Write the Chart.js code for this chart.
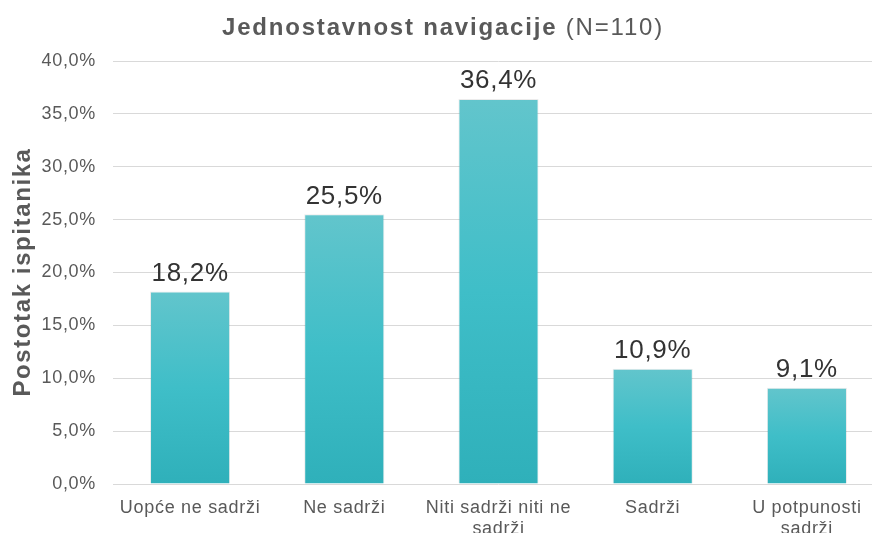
<!DOCTYPE html>
<html>
<head>
<meta charset="utf-8">
<script src="https://cdn.jsdelivr.net/npm/chart.js@4.4.1/dist/chart.umd.min.js"></script>
<style>
  html, body { margin: 0; padding: 0; background: #fff; overflow: hidden; }
  #wrap { position: absolute; left: 0; top: 0; width: 886px; height: 533px; }
</style>
</head>
<body>
<div id="wrap"><canvas id="chart"></canvas></div>
<script>
const categories = [
  "Uopće ne sadrži",
  "Ne sadrži",
  ["Niti sadrži niti ne", "sadrži"],
  "Sadrži",
  ["U potpunosti", "sadrži"]
];
const percentages = [18.2, 25.5, 36.4, 10.9, 9.1];
const yTicks = [0, 5, 10, 15, 20, 25, 30, 35, 40];

const FONT = "'Liberation Sans', Arial, Helvetica, sans-serif";
const fmt = v => v.toFixed(1).replace(".", ",") + "%";

// wider glyph spacing, like the original rendering
const spacing = {
  id: "spacing",
  beforeDraw(chart) { chart.ctx.letterSpacing = "0.7px"; },
  afterDraw(chart) { chart.ctx.letterSpacing = "0px"; }
};

const extraText = {
  id: "extraText",
  afterDatasetsDraw(chart) {
    const ctx = chart.ctx;
    const meta = chart.getDatasetMeta(0);
    ctx.save();
    ctx.letterSpacing = "0.7px";
    ctx.fillStyle = "#333333";
    ctx.font = "26px " + FONT;
    ctx.textAlign = "center";
    ctx.textBaseline = "bottom";
    meta.data.forEach((bar, i) => {
      ctx.fillText(fmt(percentages[i]), bar.x, bar.y - 5);
    });
    ctx.restore();
  },
  afterDraw(chart) {
    const ctx = chart.ctx;
    ctx.save();
    ctx.letterSpacing = "1.8px";
    ctx.fillStyle = "#595959";
    ctx.textBaseline = "middle";
    const bold = "Jednostavnost navigacije ";
    const normal = "(N=110)";
    ctx.font = "bold 24px " + FONT;
    const w1 = ctx.measureText(bold).width;
    ctx.font = "24px " + FONT;
    const w2 = ctx.measureText(normal).width;
    let x = 443 - (w1 + w2) / 2;
    ctx.textAlign = "left";
    ctx.font = "bold 24px " + FONT;
    ctx.fillText(bold, x, 28);
    ctx.font = "24px " + FONT;
    ctx.fillText(normal, x + w1, 28);

    ctx.letterSpacing = "1.6px";
    ctx.translate(23, 272);
    ctx.rotate(-Math.PI / 2);
    ctx.textAlign = "center";
    ctx.font = "bold 24px " + FONT;
    ctx.fillText("Postotak ispitanika", 0, 0);
    ctx.restore();
  }
};

const ctx = document.getElementById("chart").getContext("2d");
new Chart(ctx, {
  type: "bar",
  data: {
    labels: categories,
    datasets: [{
      data: percentages,
      backgroundColor: c => {
        const chart = c.chart;
        const area = chart.chartArea;
        if (!area) return "#3fbdc6";
        const yTop = chart.scales.y.getPixelForValue(c.raw);
        const yBot = chart.scales.y.getPixelForValue(0);
        const g = chart.ctx.createLinearGradient(0, yTop, 0, yBot);
        g.addColorStop(0, "#62c5cc");
        g.addColorStop(0.5, "#3fbec8");
        g.addColorStop(1, "#2fb0ba");
        return g;
      },
      borderColor: "rgba(0,0,0,0.08)",
      borderWidth: 1,
      categoryPercentage: 1,
      barPercentage: 0.52
    }]
  },
  options: {
    responsive: true,
    maintainAspectRatio: false,
    animation: false,
    layout: { padding: { top: 61, right: 2, left: 0, bottom: 0 } },
    plugins: {
      legend: { display: false },
      tooltip: { enabled: false }
    },
    scales: {
      x: {
        grid: { display: false, drawTicks: false },
        border: { display: false },
        ticks: {
          color: "#595959",
          font: { family: FONT, size: 18, lineHeight: 1.2 },
          padding: 13,
          maxRotation: 0,
          autoSkip: false
        },
        afterFit: s => { s.height = 49; }
      },
      y: {
        min: 0,
        max: 40,
        afterBuildTicks: s => { s.ticks = yTicks.map(v => ({ value: v })); },
        grid: { color: "#d9d9d9", lineWidth: 1, drawTicks: false },
        border: { display: false },
        ticks: {
          color: "#595959",
          font: { family: FONT, size: 18 },
          padding: 17,
          callback: v => fmt(v)
        },
        afterFit: s => { s.width = 113; }
      }
    }
  },
  plugins: [spacing, extraText]
});
</script>
</body>
</html>
